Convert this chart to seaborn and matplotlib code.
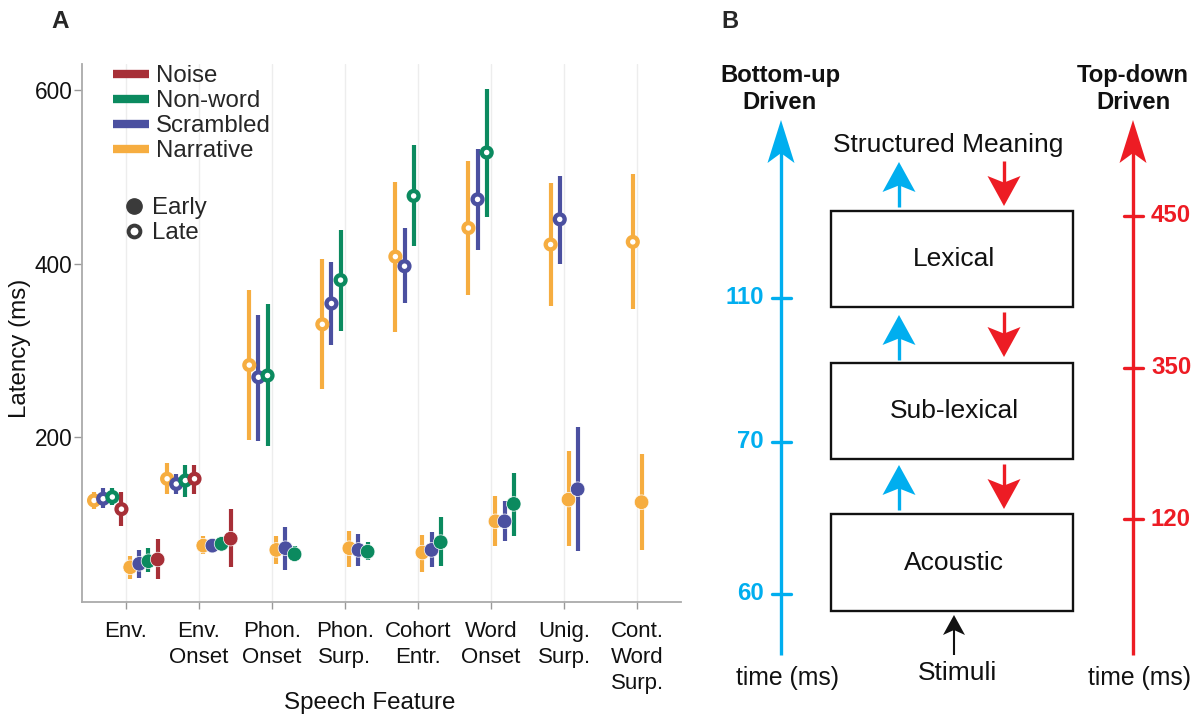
import numpy as np
import pandas as pd
import matplotlib
matplotlib.use("Agg")
import matplotlib.pyplot as plt
import seaborn as sns
from matplotlib.lines import Line2D
from matplotlib.patches import Rectangle, Polygon

sns.set_theme(style="ticks")
plt.rcParams['font.family'] = ['Liberation Sans', 'DejaVu Sans']

# ---------------- data (panel A) ----------------
features = ["Env.", "Env.\nOnset", "Phon.\nOnset", "Phon.\nSurp.",
            "Cohort\nEntr.", "Word\nOnset", "Unig.\nSurp.", "Cont.\nWord\nSurp."]
conditions = ["Narrative", "Scrambled", "Non-word", "Noise"]
legend_order = ["Noise", "Non-word", "Scrambled", "Narrative"]
N = np.nan

narrative_early = [50, 75, 70, 72, 67, 103, 128, 125]
narrative_early_lo = [36, 65, 54, 50, 45, 74, 74, 70]
narrative_early_hi = [63, 86, 86, 92, 87, 132, 184, 180]
scrambled_early = [54, 75, 72, 70, 70, 103, 140, N]
scrambled_early_lo = [38, 67, 47, 52, 50, 80, 69, N]
scrambled_early_hi = [70, 83, 96, 88, 91, 126, 212, N]
nonword_early = [57, 77, 65, 68, 79, 123, N, N]
nonword_early_lo = [44, 72, 57, 58, 51, 86, N, N]
nonword_early_hi = [72, 82, 74, 79, 108, 159, N, N]
noise_early = [59, 83, N, N, N, N, N, N]
noise_early_lo = [36, 50, N, N, N, N, N, N]
noise_early_hi = [83, 117, N, N, N, N, N, N]

narrative_late = [127, 152, 283, 330, 408, 441, 422, 425]
narrative_late_lo = [117, 134, 197, 255, 321, 364, 351, 348]
narrative_late_hi = [137, 170, 369, 405, 494, 518, 493, 503]
scrambled_late = [129, 146, 269, 354, 397, 474, 451, N]
scrambled_late_lo = [118, 134, 196, 306, 354, 416, 400, N]
scrambled_late_hi = [141, 158, 341, 402, 441, 532, 501, N]
nonword_late = [131, 150, 271, 381, 478, 528, N, N]
nonword_late_lo = [122, 131, 190, 322, 420, 454, N, N]
nonword_late_hi = [141, 168, 353, 439, 537, 601, N, N]
noise_late = [117, 152, N, N, N, N, N, N]
noise_late_lo = [98, 134, N, N, N, N, N, N]
noise_late_hi = [137, 168, N, N, N, N, N, N]

palette = {"Noise": "#a72f37", "Non-word": "#0b8a5f",
           "Scrambled": "#4b50a0", "Narrative": "#f6ad40"}

series = {
    ("Narrative", "Early"): (narrative_early, narrative_early_lo, narrative_early_hi),
    ("Scrambled", "Early"): (scrambled_early, scrambled_early_lo, scrambled_early_hi),
    ("Non-word", "Early"): (nonword_early, nonword_early_lo, nonword_early_hi),
    ("Noise", "Early"): (noise_early, noise_early_lo, noise_early_hi),
    ("Narrative", "Late"): (narrative_late, narrative_late_lo, narrative_late_hi),
    ("Scrambled", "Late"): (scrambled_late, scrambled_late_lo, scrambled_late_hi),
    ("Non-word", "Late"): (nonword_late, nonword_late_lo, nonword_late_hi),
    ("Noise", "Late"): (noise_late, noise_late_lo, noise_late_hi),
}

rows = []
for fi, feat in enumerate(features):
    for phase in ["Late", "Early"]:
        present = [c for c in conditions if not np.isnan(series[(c, phase)][0][fi])]
        n = len(present)
        for k, c in enumerate(present):
            m, lo, hi = (series[(c, phase)][j][fi] for j in range(3))
            if phase == "Early":
                off = 0.06 + 0.125 * k
            else:
                off = -(0.06 + 0.125 * (n - 1 - k))
            rows.append(dict(fidx=fi, x=fi + off, condition=c, phase=phase,
                             mean=m, lo=lo, hi=hi))
df = pd.DataFrame(rows)

# ---------------- figure ----------------
W, H = 1191, 715
fig = plt.figure(figsize=(W / 100, H / 100), dpi=100)
ax = fig.add_axes([82 / W, 1 - 602 / H, (681 - 82) / W, (602 - 64) / H])

for xi in range(len(features)):
    ax.axvline(xi, color="#ededed", lw=1, zorder=0)

for _, r in df.iterrows():
    ax.vlines(r.x, r.lo, r.hi, color=palette[r.condition], lw=3.0, zorder=2)

early = df[df.phase == "Early"]
late = df[df.phase == "Late"]
sns.scatterplot(data=early, x="x", y="mean", hue="condition", palette=palette,
                s=110, edgecolor="white", linewidth=0.5, legend=False, ax=ax, zorder=3)
sns.scatterplot(data=late, x="x", y="mean", hue="condition", palette=palette,
                s=50, linewidth=3.1, legend=False, ax=ax, zorder=3)
coll = ax.collections[-1]
fcs = coll.get_facecolors()
coll.set_edgecolors(fcs)
coll.set_facecolors("white")

ax.set_xlim(-0.6, 7.6)
ax.set_ylim(10, 630)
ax.set_xticks(range(len(features)))
ax.set_xticklabels(features, fontsize=16, linespacing=1.3, color="#111")
ax.set_yticks([200, 400, 600])
ax.set_yticklabels(["200", "400", "600"], fontsize=16.3, color="#111")
ax.tick_params(axis="x", length=5, width=1, color="#999", pad=9)
ax.tick_params(axis="y", length=6, width=1, color="#999", pad=1)
for s in ["top", "right"]:
    ax.spines[s].set_visible(False)
for s in ["left", "bottom"]:
    ax.spines[s].set_color("#aaaaaa")
    ax.spines[s].set_linewidth(1.3)
ax.set_xlabel("Speech Feature", fontsize=17.4, color="#111")
ax.set_ylabel("Latency (ms)", fontsize=17.4, color="#111")
ax.xaxis.set_label_coords(0.481, -0.167)
ax.yaxis.set_label_coords(-0.085, 0.472)

# legends
h1 = [Line2D([], [], color=palette[c], lw=6, solid_capstyle="butt") for c in legend_order]
leg1 = ax.legend(h1, legend_order, loc="upper left",
                 bbox_to_anchor=(113 / W, 1 - 65 / H), bbox_transform=fig.transFigure,
                 frameon=False, fontsize=17.3, handlelength=1.5, handletextpad=0.3,
                 labelspacing=0.13, borderpad=0, borderaxespad=0)
ax.add_artist(leg1)
h2 = [Line2D([], [], ls="none", marker="o", ms=11, mfc="#3a3a3a", mec="#3a3a3a"),
      Line2D([], [], ls="none", marker="o", ms=8.5, mfc="white", mec="#3a3a3a", mew=2.8)]
ax.legend(h2, ["Early", "Late"], loc="upper left",
          bbox_to_anchor=(124 / W, 1 - 197 / H), bbox_transform=fig.transFigure,
          frameon=False, fontsize=17.3, handlelength=0.8, handletextpad=0.35,
          labelspacing=0.13, borderpad=0, borderaxespad=0)

fig.text(60 / W, 1 - 22 / H, "A", fontsize=17.5, fontweight="bold", ha="center", va="center")

# ---------------- panel B (diagram) ----------------
bottom_up_ticks = ["110", "70", "60"]
top_down_ticks = ["450", "350", "120"]
stages = ["Lexical", "Sub-lexical", "Acoustic"]

cyan = "#00aeef"
red = "#ed1c24"
ax2 = fig.add_axes([700 / W, 0, 491 / W, 1])
ax2.set_xlim(700, 1191)
ax2.set_ylim(715, 0)
ax2.axis("off")


def arrow(x, y_tail, y_tip, color, lw, hw, hl, notch=0.23):
    d = np.sign(y_tip - y_tail)
    base = y_tip - d * hl
    ax2.plot([x, x], [y_tail, y_tip - d * hl * 0.6], color=color, lw=lw,
             solid_capstyle="butt")
    ax2.add_patch(Polygon([(x, y_tip), (x - hw / 2, base),
                           (x, y_tip - d * hl * (1 - notch)), (x + hw / 2, base)],
                          closed=True, fc=color, ec="none"))


fig.text(730 / W, 1 - 22 / H, "B", fontsize=17, fontweight="bold", ha="center", va="center")

# main timelines
arrow(781, 655, 120, cyan, 2.4, 27, 43)
arrow(1133, 655, 120, red, 2.4, 27, 43)
ax2.text(780, 89, "Bottom-up\nDriven", fontsize=17.2, fontweight="bold",
         ha="center", va="center", linespacing=1.2, color="#111")
ax2.text(1133, 89, "Top-down\nDriven", fontsize=17.2, fontweight="bold",
         ha="center", va="center", linespacing=1.2, color="#111")

for lab, yy in zip(bottom_up_ticks, [298, 442, 594]):
    ax2.plot([771.5, 790.5], [yy, yy], color=cyan, lw=2.4)
    ax2.text(764, yy, lab, color=cyan, fontsize=17.3, fontweight="bold",
             ha="right", va="center")
for lab, yy in zip(top_down_ticks, [216, 368, 519]):
    ax2.plot([1123.5, 1142.5], [yy, yy], color=red, lw=2.4)
    ax2.text(1151, yy, lab, color=red, fontsize=17.3, fontweight="bold",
             ha="left", va="center")

# boxes
for lab, (y0, y1) in zip(stages, [(211, 307), (363, 459), (514, 611)]):
    ax2.add_patch(Rectangle((830.5, y0), 242, y1 - y0, fill=False, ec="#111", lw=1.7))
    ax2.text(954, (y0 + y1) / 2, lab, fontsize=19, ha="center", va="center", color="#111")

ax2.text(948, 145, "Structured Meaning", fontsize=19, ha="center", va="center", color="#111")

# small arrows
for (yt, yp) in [(207, 162), (360, 315), (510, 465)]:
    arrow(899, yt, yp, cyan, 2.4, 33, 30, notch=0.22)
for (yt, yp) in [(161, 206), (312, 357), (464, 509)]:
    arrow(1004, yt, yp, red, 2.4, 33, 30, notch=0.22)

arrow(954, 655, 615, "#111", 1.5, 22, 20, notch=0.25)
ax2.text(957, 673, "Stimuli", fontsize=19, ha="center", va="center", color="#111")
ax2.text(787, 678, "time (ms)", fontsize=17.8, ha="center", va="center", color="#111")
ax2.text(1140, 678, "time (ms)", fontsize=17.8, ha="center", va="center", color="#111")

fig.savefig("out.png", dpi=100)
